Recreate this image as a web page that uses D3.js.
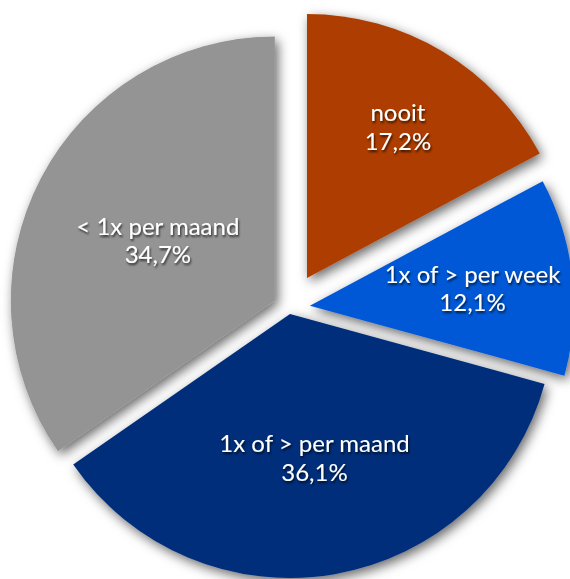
<!DOCTYPE html>
<html>
<head>
<meta charset="utf-8">
<script src="https://cdn.jsdelivr.net/npm/d3@7"></script>
<style>
  body { margin: 0; background: #fff; }
  svg { display: block; }
  .label { fill: #fff; font-family: Lato, "Open Sans", sans-serif; font-size: 24px; text-anchor: middle; }
</style>
</head>
<body>
<svg width="570" height="579"></svg>
<script>
// data
var categories = ["nooit", "1x of > per week", "1x of > per maand", "< 1x per maand"];
var values = [17.2, 12.1, 36.1, 34.7];
var colors = ["#ad3e00", "#0058d6", "#002f7a", "#949494"];

// how far each slice is pulled out, and where its label sits (fraction of radius)
var explode = [35, 21, 6, 16];
var labelPos = [0.67, 0.62, 0.55, 0.5];

var svg = d3.select("svg"),
    cx = 289, cy = 308,
    radius = 264;

var defs = svg.append("defs");
defs.append("filter").attr("id", "shadow")
    .attr("x", "-20%").attr("y", "-20%").attr("width", "140%").attr("height", "140%")
  .append("feDropShadow")
    .attr("dx", 3).attr("dy", 4).attr("stdDeviation", 6)
    .attr("flood-color", "#000").attr("flood-opacity", 0.6);
defs.append("filter").attr("id", "tshadow")
  .append("feDropShadow")
    .attr("dx", 1).attr("dy", 2).attr("stdDeviation", 1.2)
    .attr("flood-color", "#000").attr("flood-opacity", 0.7);

var pie = d3.pie().sort(null).value(function(d) { return d; });
var arcs = pie(values);
var arc = d3.arc().innerRadius(0).outerRadius(radius);

function offset(d, dist) {
  var a = (d.startAngle + d.endAngle) / 2;
  return [Math.sin(a) * dist, -Math.cos(a) * dist];
}

var g = svg.append("g").attr("transform", "translate(" + cx + "," + cy + ")");

var slices = g.selectAll(".slice")
  .data(arcs)
  .enter().append("g")
  .attr("class", "slice")
  .attr("transform", function(d, i) {
    var o = offset(d, explode[i]);
    return "translate(" + o[0] + "," + o[1] + ")";
  });

slices.append("path")
  .attr("d", arc)
  .attr("fill", function(d, i) { return colors[i]; })
  .attr("filter", "url(#shadow)");

var labels = g.selectAll(".label")
  .data(arcs)
  .enter().append("text")
  .attr("class", "label")
  .attr("filter", "url(#tshadow)")
  .attr("transform", function(d, i) {
    var o = offset(d, explode[i] + radius * labelPos[i]);
    return "translate(" + o[0] + "," + o[1] + ")";
  });

labels.append("tspan")
  .attr("x", 0).attr("dy", "-0.2em")
  .text(function(d, i) { return categories[i]; });
labels.append("tspan")
  .attr("x", 0).attr("dy", "1.2em")
  .text(function(d) { return d.value.toFixed(1).replace(".", ",") + "%"; });
</script>
</body>
</html>
